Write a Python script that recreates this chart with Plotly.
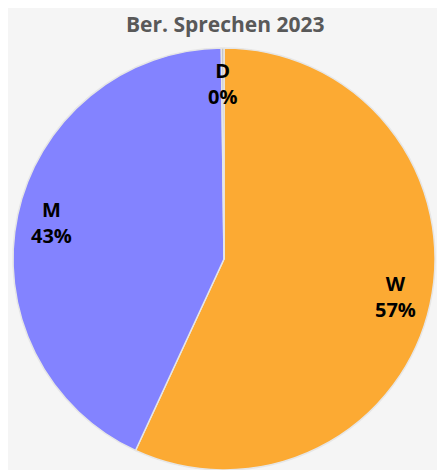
import math
import plotly.graph_objects as go

# Daten
labels = ["W", "M", "D"]
values = [57, 43, 0.2]
colors = ["#FCAA33", "#8383FF", "#BFBFBF"]
titel = "Ber. Sprechen 2023"

total = sum(values)

fig = go.Figure(go.Pie(
    labels=labels,
    values=values,
    sort=False,
    direction="clockwise",
    rotation=0,
    textinfo="none",
    hoverinfo="label+percent",
    marker=dict(colors=colors, line=dict(color="#E6E6E6", width=1.5)),
    showlegend=False,
    domain=dict(x=[0, 1], y=[0, 1]),
))

# Beschriftungen: Name + Prozent, in der Mitte jedes Segments
annos = []
start = 0
for lab, val in zip(labels, values):
    mid = (start + val / 2) / total * 2 * math.pi
    start += val
    f = 0.83
    annos.append(dict(
        x=0.5 + f * 0.5 * math.sin(mid),
        y=0.5 + f * 0.5 * math.cos(mid),
        xref="paper", yref="paper",
        xanchor="center", yanchor="middle",
        text=f"<b>{lab}<br>{round(val / total * 100)}%</b>",
        showarrow=False,
        font=dict(family="Open Sans", size=20, color="#000000"),
    ))

# Die Seite hat 8px Rand, daher 437x462 statt 445x470
fig.update_layout(
    width=437, height=462,
    margin=dict(l=4, r=9, t=40, b=0),
    paper_bgcolor="#F5F5F5",
    plot_bgcolor="#F5F5F5",
    title=dict(text=f"<b>{titel}</b>", x=0.497, xanchor="center", y=0.965, yanchor="middle",
               font=dict(family="Open Sans", size=21, color="#595959")),
    annotations=annos,
)

fig.write_html("out.html")
